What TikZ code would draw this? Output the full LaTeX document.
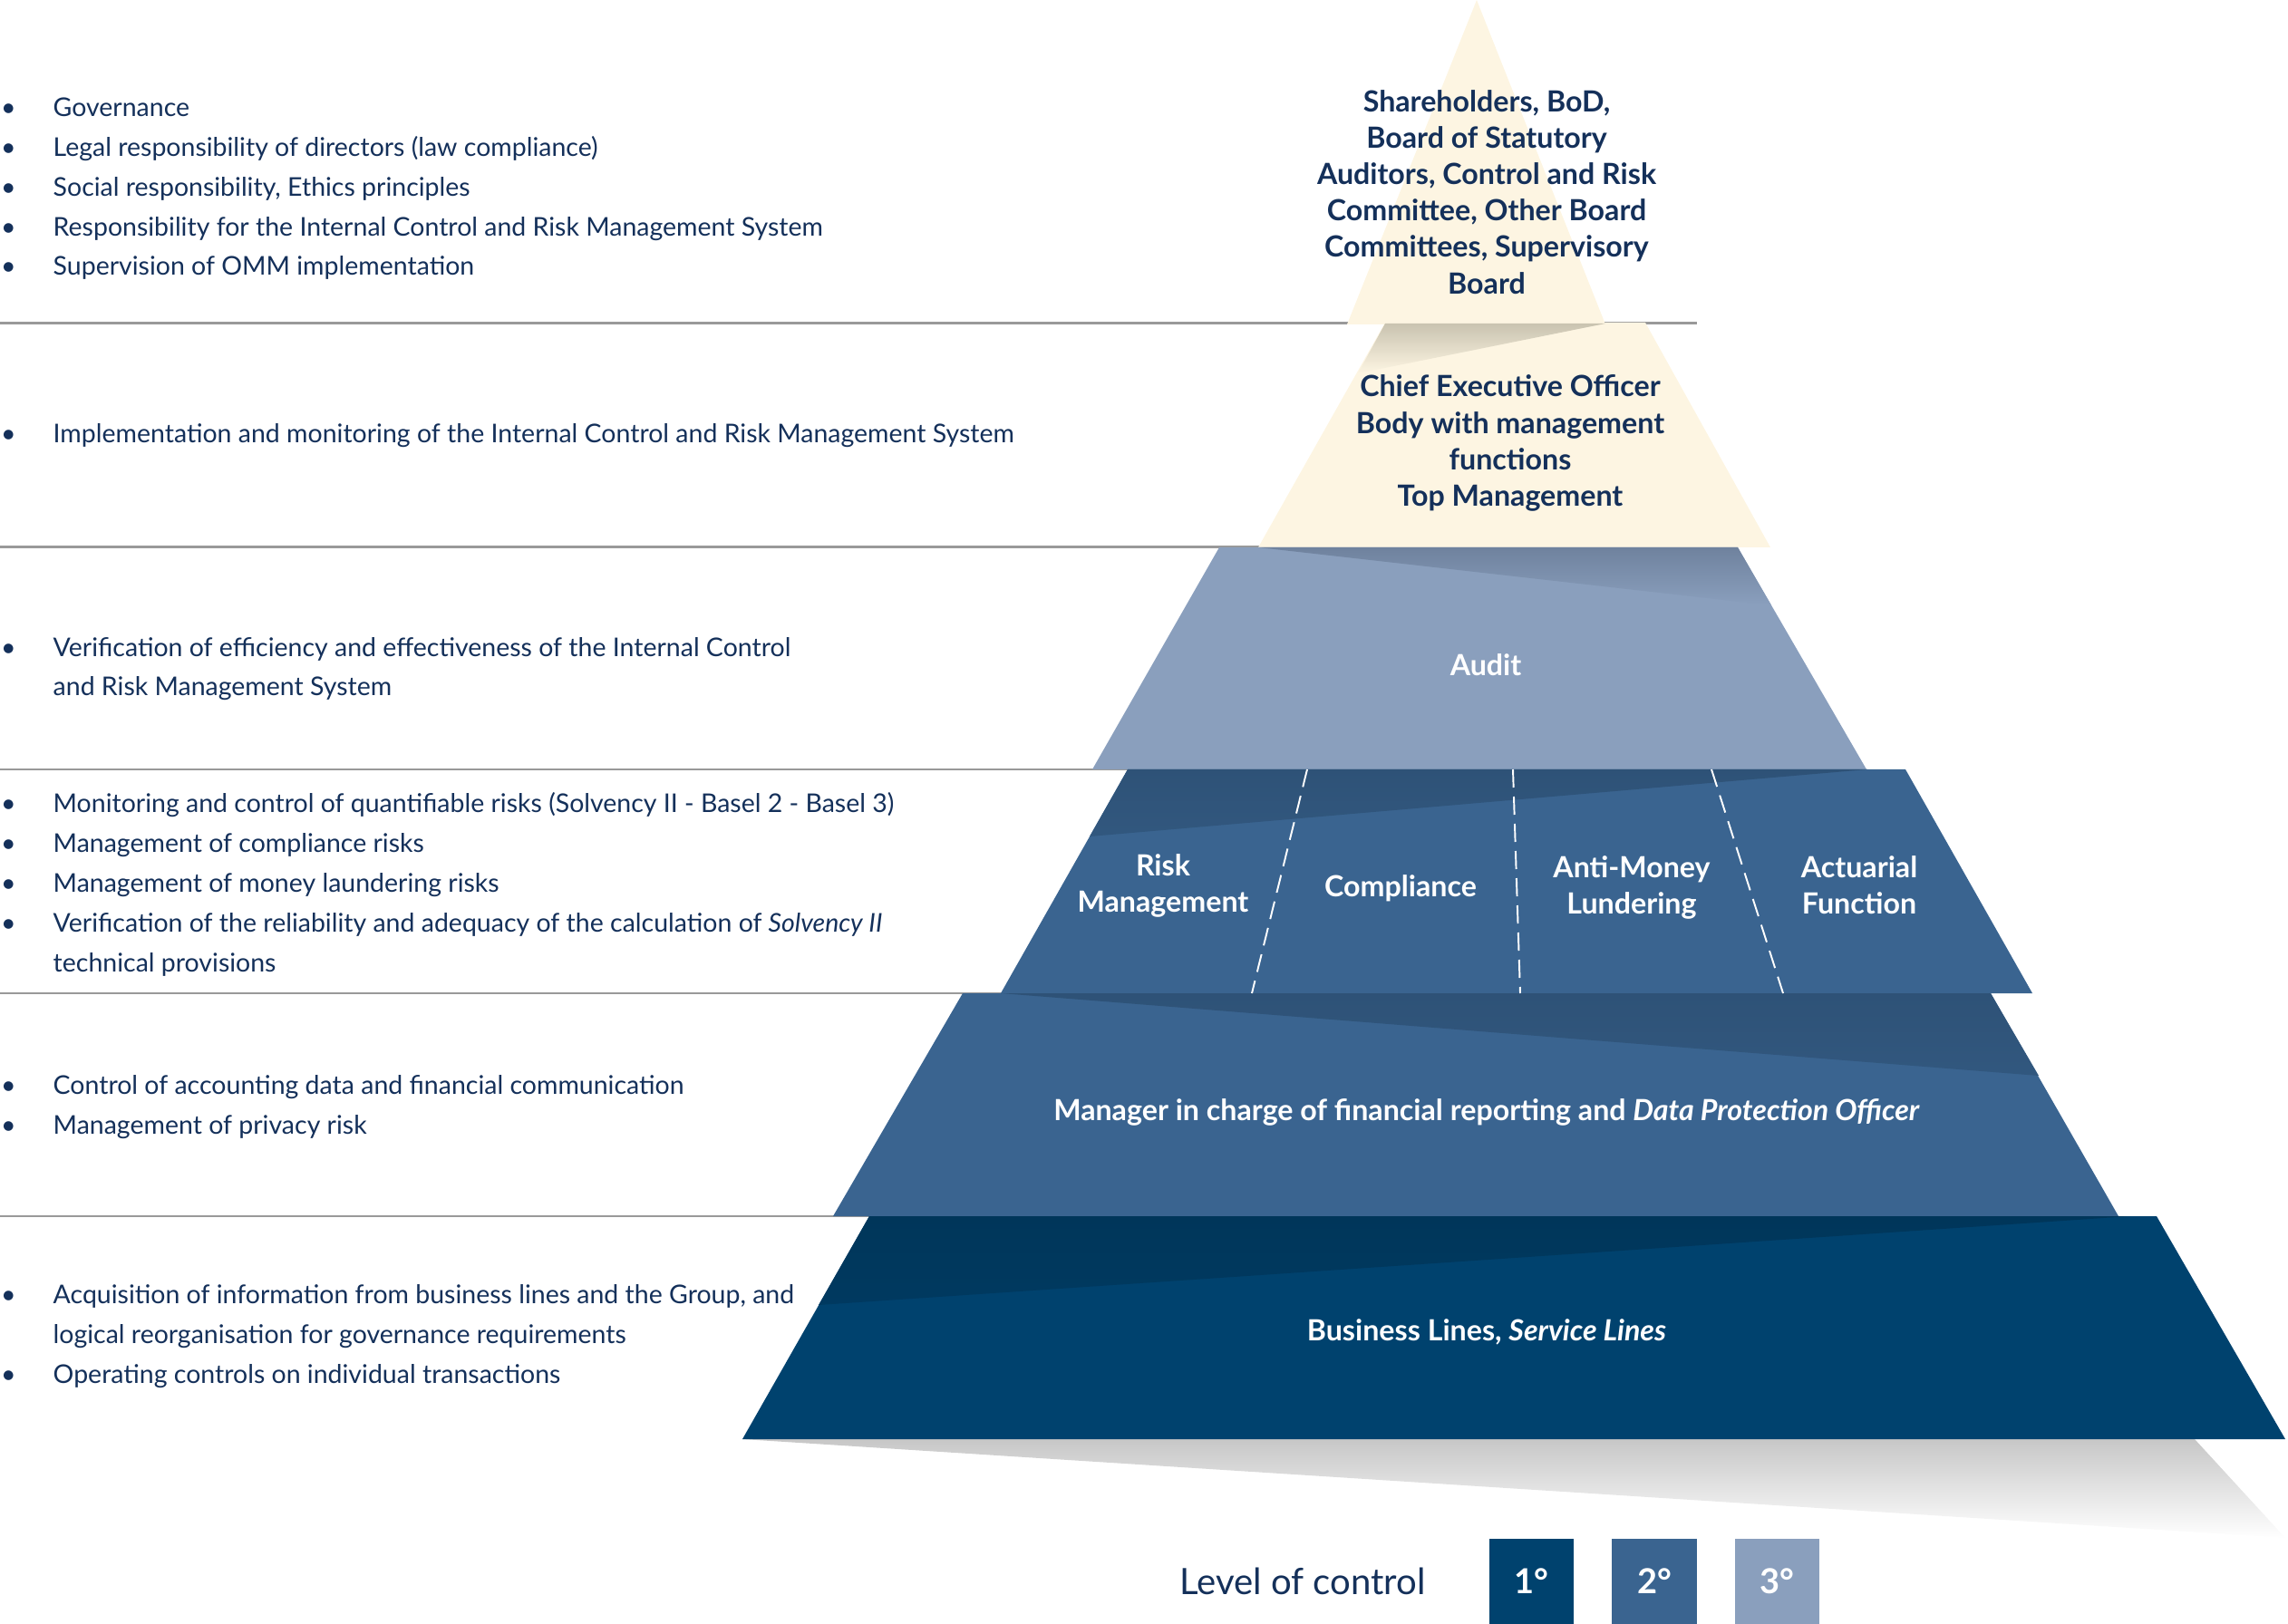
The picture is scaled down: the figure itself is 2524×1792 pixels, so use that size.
\documentclass[tikz,border=0pt]{standalone}
\usepackage{fontspec}
\setmainfont{Lato}
\usepackage{tikz}
\usetikzlibrary{positioning}
\definecolor{cream}{HTML}{FDF5E2}
\definecolor{creamshade}{HTML}{C9C3B0}
\definecolor{auditblue}{HTML}{8A9FBD}
\definecolor{auditshade}{HTML}{6F829E}
\definecolor{midblue}{HTML}{3A6490}
\definecolor{midshade}{HTML}{2E5277}
\definecolor{deepblue}{HTML}{00426E}
\definecolor{deepshade}{HTML}{00365A}
\definecolor{navytext}{HTML}{14305A}
\definecolor{rulegray}{HTML}{999999}
\newcommand{\itm}{\llap{\textbullet\hspace{4.1mm}}}
\tikzset{
  rule/.style={draw=rulegray,line width=0.85pt},
  divider/.style={draw=white,line width=0.55pt,dash pattern=on 2mm off 1mm},
  lbl/.style={align=center,inner sep=0pt,text=white,font=\bfseries\fontsize{9.15}{11.4}\selectfont},
  lbldark/.style={lbl,text=navytext},
  bullets/.style={anchor=base west,align=left,inner sep=0pt,text=navytext,font=\fontsize{8.1}{12.48}\selectfont},
  lvlbox/.style={minimum width=0.93cm,minimum height=0.94cm,inner sep=0pt,text=white,font=\bfseries\fontsize{10.8}{12}\selectfont}
}
\begin{document}
\begin{tikzpicture}[x=0.01cm,y=-0.01cm]
  \useasboundingbox (0,0) rectangle (2524,1792);
  \draw[rule] (0,357) -- (1872,357);
  \draw[rule] (0,604) -- (1600,604);
  \draw[rule] (0,849) -- (1600,849);
  \draw[rule] (0,1096) -- (1600,1096);
  \draw[rule] (0,1342) -- (1600,1342);
  \shade[top color=black!22,bottom color=white] (819,1588) -- (2421,1588) -- (2521,1697) -- cycle;
  \fill[cream] (1528,356) -- (1815,356) -- (1953,604) -- (1388,604) -- cycle;
  \fill[cream] (1629,0) -- (1771,358) -- (1486,358) -- cycle;
  \shade[top color=creamshade,bottom color=cream] (1528,357) -- (1771,357) -- (1498,412) -- cycle;
  \fill[auditblue] (1345,604) -- (1917,604) -- (2059,849) -- (1205,849) -- cycle;
  \shade[top color=auditshade,bottom color=auditblue] (1388,604) -- (1917,604) -- (1954,668) -- cycle;
  \fill[midblue] (1244,849) -- (2102,849) -- (2242,1096) -- (1104,1096) -- cycle;
  \shade[top color=midshade,bottom color=midshade!70!midblue] (1244,849) -- (2060,849) -- (1202,923) -- cycle;
  \fill[midblue] (1062,1096) -- (2196,1096) -- (2337,1342) -- (919,1342) -- cycle;
  \shade[top color=midshade,bottom color=midshade!70!midblue] (1104,1096) -- (2196,1096) -- (2249,1187) -- cycle;
  \fill[deepblue] (959,1342) -- (2379,1342) -- (2521,1588) -- (819,1588) -- cycle;
  \shade[top color=deepshade,bottom color=deepshade!70!deepblue] (959,1342) -- (2350,1342) -- (903,1440) -- cycle;
  \draw[divider] (1442,849) -- (1381,1096);
  \draw[divider] (1669,849) -- (1677,1096);
  \draw[divider] (1888,849) -- (1967,1096);

  \node[lbldark] (board) at (1640,212) {Shareholders, BoD,\\Board of Statutory\\Auditors, Control and Risk\\Committee, Other Board\\Committees, Supervisory\\Board};
  \node[lbldark] (ceo) at (1666,489) {Chief Executive Officer\\Body with management\\functions\\Top Management};
  \node[lbl] (audit) at (1639,734) {Audit};
  \node[lbl] (risk) at (1283,977) {Risk\\Management};
  \node[lbl] (compliance) at (1545,980) {Compliance};
  \node[lbl] (aml) at (1800,979) {Anti-Money\\Lundering};
  \node[lbl] (actuarial) at (2051,977) {Actuarial\\Function};
  \node[lbl] (manager) at (1640,1227) {Manager in charge of financial reporting and \textit{Data Protection Officer}};
  \node[lbl] (business) at (1640,1470) {Business Lines, \textit{Service Lines}};

  \node[bullets] (govtext) at (58,304) {\itm Governance\\\itm Legal responsibility of directors (law compliance)\\\itm Social responsibility, Ethics principles\\\itm Responsibility for the Internal Control and Risk Management System\\\itm Supervision of OMM implementation};
  \node[bullets] (ceotext) at (58,489) {\itm Implementation and monitoring of the Internal Control and Risk Management System};
  \node[bullets] (audittext) at (58,768) {\itm Verification of efficiency and effectiveness of the Internal Control\\and Risk Management System};
  \node[bullets] (secondtext) at (58,1072) {\itm Monitoring and control of quantifiable risks (Solvency II - Basel 2 - Basel 3)\\\itm Management of compliance risks\\\itm Management of money laundering risks\\\itm Verification of the reliability and adequacy of the calculation of \textit{Solvency II}\\technical provisions};
  \node[bullets] (managertext) at (58,1251) {\itm Control of accounting data and financial communication\\\itm Management of privacy risk};
  \node[bullets] (businesstext) at (58,1526) {\itm Acquisition of information from business lines and the Group, and\\logical reorganisation for governance requirements\\\itm Operating controls on individual transactions};

  \node[lvlbox,fill=deepblue] (lvl1) at (1689.5,1745) {1°};
  \node[lvlbox,fill=midblue,right=0.41cm of lvl1] (lvl2) {2°};
  \node[lvlbox,fill=auditblue,right=0.41cm of lvl2] (lvl3) {3°};
  \node[left=0.69cm of lvl1,inner sep=0pt,text=navytext,font=\fontsize{11.4}{13}\selectfont] (levels) {Level of control};
\end{tikzpicture}
\end{document}
